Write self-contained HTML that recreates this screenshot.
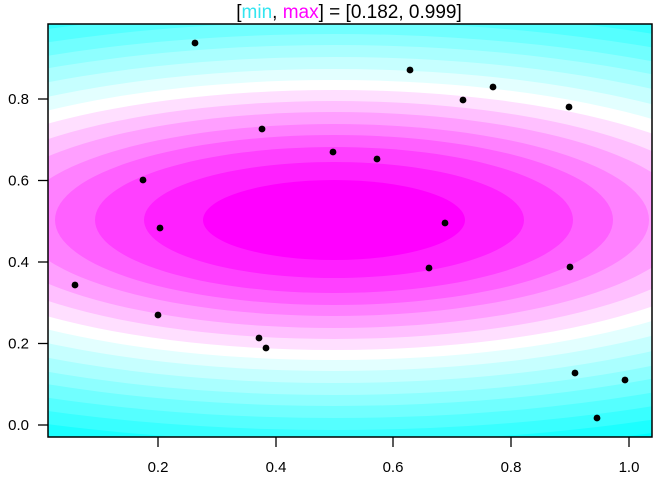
<!DOCTYPE html>
<html><head><meta charset="utf-8"><style>
html,body{margin:0;padding:0;background:#fff;}
svg{display:block;font-family:"Liberation Sans",Arial,sans-serif;}
</style></head><body>
<svg width="672" height="480" viewBox="0 0 672 480" xmlns="http://www.w3.org/2000/svg">
<defs><clipPath id="c"><rect x="48" y="24" width="604" height="413"/></clipPath></defs>
<g clip-path="url(#c)">
<rect x="48" y="24" width="604" height="413" fill="#00FFFF"/>
<ellipse cx="334" cy="220" rx="768" ry="234" fill="#1CFFFF"/>
<ellipse cx="334" cy="220" rx="728" ry="222" fill="#39FFFF"/>
<ellipse cx="334" cy="220" rx="689" ry="210" fill="#55FFFF"/>
<ellipse cx="334" cy="220" rx="649" ry="198" fill="#71FFFF"/>
<ellipse cx="334" cy="220" rx="610" ry="186" fill="#8EFFFF"/>
<ellipse cx="334" cy="220" rx="574" ry="175" fill="#AAFFFF"/>
<ellipse cx="334" cy="220" rx="535" ry="163" fill="#C6FFFF"/>
<ellipse cx="334" cy="220" rx="495" ry="151" fill="#E3FFFF"/>
<ellipse cx="334" cy="220" rx="459" ry="140" fill="#FFFFFF"/>
<ellipse cx="334" cy="220" rx="426" ry="130" fill="#FFDFFF"/>
<ellipse cx="334" cy="220" rx="390" ry="119" fill="#FFBFFF"/>
<ellipse cx="334" cy="220" rx="354" ry="108" fill="#FF9FFF"/>
<ellipse cx="334" cy="220" rx="315" ry="96" fill="#FF80FF"/>
<ellipse cx="334" cy="220" rx="279" ry="85" fill="#FF60FF"/>
<ellipse cx="334" cy="220" rx="239" ry="73" fill="#FF40FF"/>
<ellipse cx="334" cy="220" rx="190" ry="58" fill="#FF20FF"/>
<ellipse cx="334" cy="220" rx="131" ry="40" fill="#FF00FF"/>
</g>
<g fill="#000">
<circle cx="195" cy="43" r="3.4"/><circle cx="410" cy="70" r="3.4"/>
<circle cx="463" cy="100" r="3.4"/><circle cx="493" cy="87" r="3.4"/>
<circle cx="569" cy="107" r="3.4"/><circle cx="262" cy="129" r="3.4"/>
<circle cx="333" cy="152" r="3.4"/><circle cx="377" cy="159" r="3.4"/>
<circle cx="143" cy="180" r="3.4"/><circle cx="160" cy="228" r="3.4"/>
<circle cx="445" cy="223" r="3.4"/><circle cx="429" cy="268" r="3.4"/>
<circle cx="570" cy="267" r="3.4"/><circle cx="75" cy="285" r="3.4"/>
<circle cx="158" cy="315" r="3.4"/><circle cx="259" cy="338" r="3.4"/>
<circle cx="266" cy="348" r="3.4"/><circle cx="575" cy="373" r="3.4"/>
<circle cx="625" cy="380" r="3.4"/><circle cx="597" cy="418" r="3.4"/>
</g>
<rect x="48" y="24" width="604" height="413" fill="none" stroke="#000" stroke-width="1.5"/>
<g stroke="#000" stroke-width="1.3">
<line x1="38" y1="425" x2="48" y2="425"/><line x1="38" y1="343.5" x2="48" y2="343.5"/>
<line x1="38" y1="262" x2="48" y2="262"/><line x1="38" y1="180.5" x2="48" y2="180.5"/>
<line x1="38" y1="99" x2="48" y2="99"/>
<line x1="158" y1="437" x2="158" y2="447"/><line x1="276" y1="437" x2="276" y2="447"/>
<line x1="393" y1="437" x2="393" y2="447"/><line x1="511" y1="437" x2="511" y2="447"/>
<line x1="629" y1="437" x2="629" y2="447"/>
</g>
<g font-size="15" fill="#000" text-anchor="end">
<text x="29" y="430">0.0</text><text x="29" y="348.5">0.2</text>
<text x="29" y="267">0.4</text><text x="29" y="185.5">0.6</text>
<text x="29" y="104">0.8</text>
</g>
<g font-size="15" fill="#000" text-anchor="middle">
<text x="158" y="472">0.2</text><text x="276" y="472">0.4</text>
<text x="393" y="472">0.6</text><text x="511" y="472">0.8</text>
<text x="629" y="472">1.0</text>
</g>
<text x="349" y="18" font-size="19" text-anchor="middle" fill="#000">[<tspan fill="#33E5F0">min</tspan>, <tspan fill="#FF00FF">max</tspan>] = [0.182, 0.999]</text>
</svg>
</body></html>
